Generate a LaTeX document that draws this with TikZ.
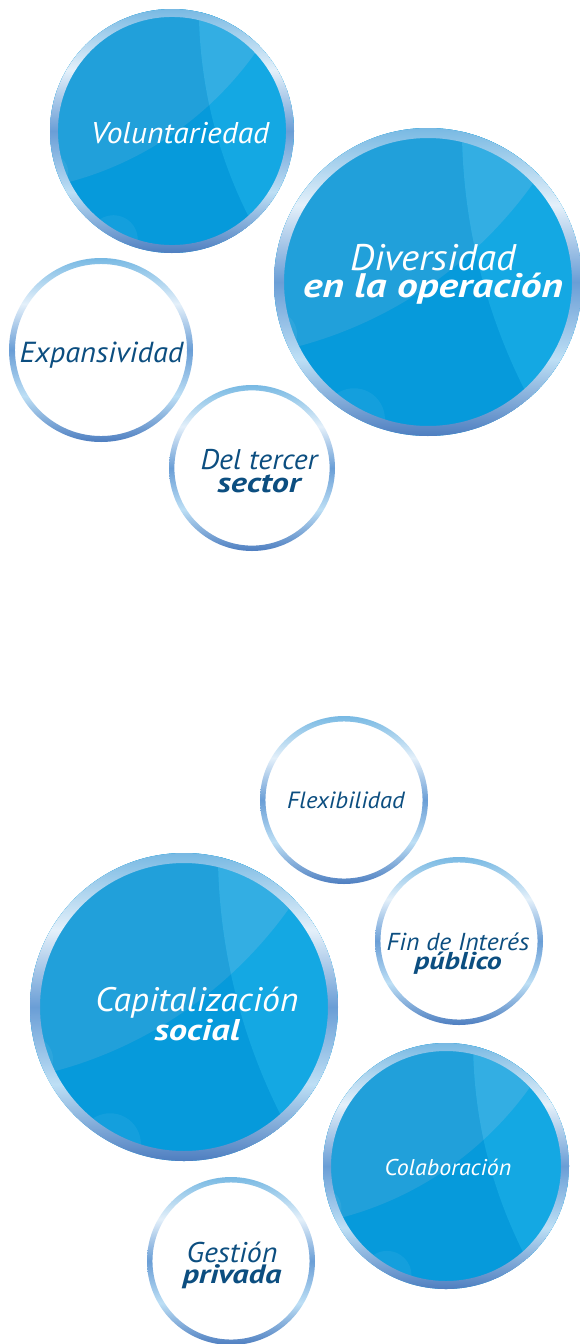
\documentclass[tikz,border=0pt]{standalone}
\usepackage{fontspec}
\setmainfont{PT Sans}[ItalicFeatures={FakeStretch=1.05},BoldItalicFeatures={FakeStretch=1.22}]

\definecolor{ringtop}{HTML}{78B9E3}
\definecolor{ringhigh}{HTML}{E4F0FA}
\definecolor{ringmid}{HTML}{6A9ED6}
\definecolor{ringlow}{HTML}{BDDFF5}
\definecolor{ringbot}{HTML}{4E7EC0}
\definecolor{discbase}{HTML}{069ADB}
\definecolor{discup}{HTML}{21A0DA}
\definecolor{discright}{HTML}{14A8E3}
\definecolor{disccorner}{HTML}{33AEE3}
\definecolor{labelblue}{HTML}{0C4E80}

\pgfdeclareverticalshading{ringshade}{100bp}{color(0bp)=(ringbot); color(25bp)=(ringbot); color(37.5bp)=(ringlow); color(50bp)=(ringmid); color(62.5bp)=(ringhigh); color(75bp)=(ringtop); color(100bp)=(ringtop)}

\begin{document}
\begin{tikzpicture}[x=1pt,y=-1pt]

	\tikzstyle{ring}=[shading=ringshade,even odd rule]
	\tikzstyle{bubble}=[white,opacity=.06]
	\tikzstyle{whitelabel}=[text=white,inner sep=0pt,align=center]
	\tikzstyle{bluelabel}=[text=labelblue,inner sep=0pt,align=center]

	\useasboundingbox (0,0) rectangle (579,1344);

	% blue discs
	\foreach \cx / \cy / \r in {172/131/122,428/282/154,184/1007/154,446/1166/123}{
		\begin{scope}
			\clip (\cx,\cy) circle [radius=\r];
			\fill[discbase] (\cx,\cy) circle [radius=\r];
			\fill[discup] ({\cx-1.55*\r},{\cy-2.23*\r}) circle [radius={2.74*\r}];
			\fill[discright] ({\cx+4.05*\r},{\cy-1.02*\r}) circle [radius={3.83*\r}];
			\fill[bubble] ({\cx-0.48*\r},{\cy+0.89*\r}) circle [radius={0.2*\r}];
			\fill[bubble] ({\cx-\r},{\cy+0.34*\r}) circle [radius={0.15*\r}];
			\clip ({\cx-1.55*\r},{\cy-2.23*\r}) circle [radius={2.74*\r}];
			\fill[disccorner] ({\cx+4.05*\r},{\cy-1.02*\r}) circle [radius={3.83*\r}];
		\end{scope}
		\shade[ring] (\cx,\cy) circle [radius=\r] circle [radius={0.935*\r}];
	}

	% white discs
	\foreach \cx / \cy / \r in {101/350/92,252/468/83,344/800/84,459/941/84,231/1261/84}{
		\fill[white] (\cx,\cy) circle [radius=\r];
		\shade[ring] (\cx,\cy) circle [radius=\r] circle [radius={0.935*\r}];
	}

	\node[whitelabel,anchor=base,font=\fontsize{30}{32}\selectfont\itshape] (vol) at (180,143) {Voluntariedad};
	\node[whitelabel,font=\fontsize{34}{27}\selectfont\itshape] (diver) at (433,274)
		{{\fontsize{37}{27}\selectfont Diversidad}\\{\bfseries en la operación}};
	\node[bluelabel,anchor=base,font=\fontsize{29}{30}\selectfont\itshape] (expans) at (101.5,362) {Expansividad};
	\node[bluelabel,font=\fontsize{28}{23}\selectfont\itshape] (tercer) at (259,471)
		{{\fontsize{28.5}{23}\selectfont Del tercer}\\{\bfseries sector}};

	\node[bluelabel,anchor=base,font=\fontsize{23.5}{24}\selectfont\itshape] (flex) at (346,808) {Flexibilidad};
	\node[bluelabel,font=\fontsize{24.4}{19}\selectfont\itshape] (finint) at (458,954)
		{{\fontsize{24.5}{19}\selectfont Fin de Interés}\\{\bfseries público}};
	\node[whitelabel,font=\fontsize{30}{27}\selectfont\itshape] (capital) at (197,1014)
		{{\fontsize{34}{27}\selectfont Capitalización}\\{\bfseries social}};
	\node[whitelabel,anchor=base,font=\fontsize{22.8}{24}\selectfont\itshape] (colab) at (448,1175) {Colaboración};
	\node[bluelabel,font=\fontsize{26.6}{21}\selectfont\itshape] (gestion) at (232,1265)
		{{\fontsize{28.5}{21}\selectfont Gestión}\\{\bfseries privada}};
\end{tikzpicture}
\end{document}
